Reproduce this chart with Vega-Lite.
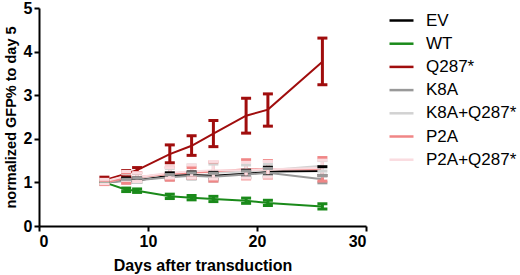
{
  "$schema": "https://vega.github.io/schema/vega-lite/v6.json",
  "autosize": {"type": "none"},
  "width": 327,
  "height": 218,
  "padding": {"left": 39, "top": 8, "right": 154, "bottom": 49},
  "background": "white",
  "config": {
    "view": {"stroke": null},
    "axis": {
      "grid": false,
      "domainColor": "black",
      "domainWidth": 2,
      "tickColor": "black",
      "tickWidth": 2,
      "tickSize": 5,
      "labelFont": "Liberation Sans",
      "labelFontWeight": "bold",
      "labelFontSize": 16,
      "labelColor": "black",
      "labelPadding": 2,
      "titleFont": "Liberation Sans",
      "titleFontWeight": "bold",
      "titleColor": "black"
    },
    "legend": {
      "labelFont": "Liberation Sans",
      "labelFontSize": 17,
      "labelColor": "black"
    }
  },
  "data": {
    "values": [
      {"series": "EV", "day": 6, "mean": 1.0, "lo": 0.97, "hi": 1.03},
      {"series": "EV", "day": 8, "mean": 1.05, "lo": 1.0, "hi": 1.1},
      {"series": "EV", "day": 9, "mean": 1.05, "lo": 1.0, "hi": 1.1},
      {"series": "EV", "day": 12, "mean": 1.15, "lo": 1.08, "hi": 1.22},
      {"series": "EV", "day": 14, "mean": 1.17, "lo": 1.1, "hi": 1.24},
      {"series": "EV", "day": 16, "mean": 1.15, "lo": 1.07, "hi": 1.23},
      {"series": "EV", "day": 19, "mean": 1.2, "lo": 1.12, "hi": 1.28},
      {"series": "EV", "day": 21, "mean": 1.25, "lo": 1.15, "hi": 1.35},
      {"series": "EV", "day": 26, "mean": 1.26, "lo": 1.16, "hi": 1.36},
      {"series": "WT", "day": 6, "mean": 1.0, "lo": 0.97, "hi": 1.03},
      {"series": "WT", "day": 8, "mean": 0.83, "lo": 0.79, "hi": 0.87},
      {"series": "WT", "day": 9, "mean": 0.81, "lo": 0.77, "hi": 0.85},
      {"series": "WT", "day": 12, "mean": 0.68, "lo": 0.63, "hi": 0.73},
      {"series": "WT", "day": 14, "mean": 0.65, "lo": 0.6, "hi": 0.7},
      {"series": "WT", "day": 16, "mean": 0.62, "lo": 0.56, "hi": 0.68},
      {"series": "WT", "day": 19, "mean": 0.58, "lo": 0.52, "hi": 0.64},
      {"series": "WT", "day": 21, "mean": 0.53, "lo": 0.47, "hi": 0.59},
      {"series": "WT", "day": 26, "mean": 0.45, "lo": 0.39, "hi": 0.51},
      {"series": "Q287*", "day": 6, "mean": 1.05, "lo": 0.98, "hi": 1.12},
      {"series": "Q287*", "day": 8, "mean": 1.2, "lo": 1.13, "hi": 1.27},
      {"series": "Q287*", "day": 9, "mean": 1.28, "lo": 1.22, "hi": 1.34},
      {"series": "Q287*", "day": 12, "mean": 1.65, "lo": 1.45, "hi": 1.86},
      {"series": "Q287*", "day": 14, "mean": 1.84, "lo": 1.62, "hi": 2.07},
      {"series": "Q287*", "day": 16, "mean": 2.12, "lo": 1.82, "hi": 2.42},
      {"series": "Q287*", "day": 19, "mean": 2.53, "lo": 2.13, "hi": 2.93},
      {"series": "Q287*", "day": 21, "mean": 2.67, "lo": 2.29, "hi": 3.03},
      {"series": "Q287*", "day": 26, "mean": 3.77, "lo": 3.24, "hi": 4.31},
      {"series": "K8A", "day": 6, "mean": 1.0, "lo": 0.97, "hi": 1.03},
      {"series": "K8A", "day": 8, "mean": 1.03, "lo": 0.99, "hi": 1.07},
      {"series": "K8A", "day": 9, "mean": 1.05, "lo": 1.0, "hi": 1.1},
      {"series": "K8A", "day": 12, "mean": 1.12, "lo": 1.06, "hi": 1.18},
      {"series": "K8A", "day": 14, "mean": 1.15, "lo": 1.08, "hi": 1.22},
      {"series": "K8A", "day": 16, "mean": 1.13, "lo": 1.05, "hi": 1.21},
      {"series": "K8A", "day": 19, "mean": 1.18, "lo": 1.1, "hi": 1.26},
      {"series": "K8A", "day": 21, "mean": 1.22, "lo": 1.12, "hi": 1.32},
      {"series": "K8A", "day": 26, "mean": 1.07, "lo": 0.99, "hi": 1.15},
      {"series": "K8A+Q287*", "day": 6, "mean": 1.0, "lo": 0.97, "hi": 1.03},
      {"series": "K8A+Q287*", "day": 8, "mean": 1.1, "lo": 1.0, "hi": 1.2},
      {"series": "K8A+Q287*", "day": 9, "mean": 1.1, "lo": 1.0, "hi": 1.2},
      {"series": "K8A+Q287*", "day": 12, "mean": 1.2, "lo": 1.08, "hi": 1.32},
      {"series": "K8A+Q287*", "day": 14, "mean": 1.25, "lo": 1.1, "hi": 1.4},
      {"series": "K8A+Q287*", "day": 16, "mean": 1.22, "lo": 1.02, "hi": 1.42},
      {"series": "K8A+Q287*", "day": 19, "mean": 1.25, "lo": 1.1, "hi": 1.4},
      {"series": "K8A+Q287*", "day": 21, "mean": 1.28, "lo": 1.13, "hi": 1.43},
      {"series": "K8A+Q287*", "day": 26, "mean": 1.38, "lo": 1.26, "hi": 1.5},
      {"series": "P2A", "day": 6, "mean": 1.0, "lo": 0.95, "hi": 1.05},
      {"series": "P2A", "day": 8, "mean": 1.1, "lo": 0.98, "hi": 1.22},
      {"series": "P2A", "day": 9, "mean": 1.12, "lo": 1.02, "hi": 1.22},
      {"series": "P2A", "day": 12, "mean": 1.2, "lo": 1.05, "hi": 1.35},
      {"series": "P2A", "day": 14, "mean": 1.22, "lo": 1.1, "hi": 1.34},
      {"series": "P2A", "day": 16, "mean": 1.25, "lo": 1.03, "hi": 1.47},
      {"series": "P2A", "day": 19, "mean": 1.3, "lo": 1.08, "hi": 1.52},
      {"series": "P2A", "day": 21, "mean": 1.3, "lo": 1.1, "hi": 1.5},
      {"series": "P2A", "day": 26, "mean": 1.3, "lo": 1.03, "hi": 1.57},
      {"series": "P2A+Q287*", "day": 6, "mean": 1.02, "lo": 0.97, "hi": 1.07},
      {"series": "P2A+Q287*", "day": 8, "mean": 1.15, "lo": 1.05, "hi": 1.25},
      {"series": "P2A+Q287*", "day": 9, "mean": 1.12, "lo": 1.02, "hi": 1.22},
      {"series": "P2A+Q287*", "day": 12, "mean": 1.22, "lo": 1.1, "hi": 1.34},
      {"series": "P2A+Q287*", "day": 14, "mean": 1.25, "lo": 1.1, "hi": 1.4},
      {"series": "P2A+Q287*", "day": 16, "mean": 1.28, "lo": 1.08, "hi": 1.48},
      {"series": "P2A+Q287*", "day": 19, "mean": 1.28, "lo": 1.1, "hi": 1.46},
      {"series": "P2A+Q287*", "day": 21, "mean": 1.3, "lo": 1.12, "hi": 1.48},
      {"series": "P2A+Q287*", "day": 26, "mean": 1.33, "lo": 1.15, "hi": 1.51}
    ]
  },
  "encoding": {
    "x": {
      "field": "day", "type": "quantitative",
      "scale": {"domain": [0, 30], "nice": false, "zero": false},
      "axis": {"values": [0, 10, 20, 30], "title": "Days after transduction", "titlePadding": 8, "titleFontSize": 16}
    },
    "color": {
      "field": "series", "type": "nominal",
      "scale": {
        "domain": ["EV", "WT", "Q287*", "K8A", "K8A+Q287*", "P2A", "P2A+Q287*"],
        "range": ["#000000", "#1a8a1a", "#a00d0d", "#999999", "#d2d2d2", "#f08686", "#fadce0"]
      },
      "legend": {
        "title": null,
        "orient": "none",
        "legendX": 349,
        "legendY": -1,
        "symbolType": "stroke",
        "symbolSize": 576,
        "symbolStrokeWidth": 2.5,
        "symbolOpacity": 1,
        "labelOffset": 11,
        "rowPadding": 1.2
      }
    }
  },
  "layer": [
    {
      "mark": {"type": "line", "strokeWidth": 2, "opacity": 1},
      "encoding": {
        "y": {
          "field": "mean", "type": "quantitative",
          "scale": {"domain": [0, 5], "nice": false},
          "axis": {"values": [0, 1, 2, 3, 4, 5], "title": "normalized GFP% to day 5", "titlePadding": 5, "titleFontSize": 14.5}
        }
      }
    },
    {
      "mark": {"type": "rule", "strokeWidth": 3, "opacity": 1},
      "encoding": {
        "y": {"field": "lo", "type": "quantitative"},
        "y2": {"field": "hi"}
      }
    },
    {
      "mark": {"type": "tick", "orient": "horizontal", "size": 10, "thickness": 3, "opacity": 1},
      "encoding": {"y": {"field": "lo", "type": "quantitative"}}
    },
    {
      "mark": {"type": "tick", "orient": "horizontal", "size": 10, "thickness": 3, "opacity": 1},
      "encoding": {"y": {"field": "hi", "type": "quantitative"}}
    }
  ]
}
